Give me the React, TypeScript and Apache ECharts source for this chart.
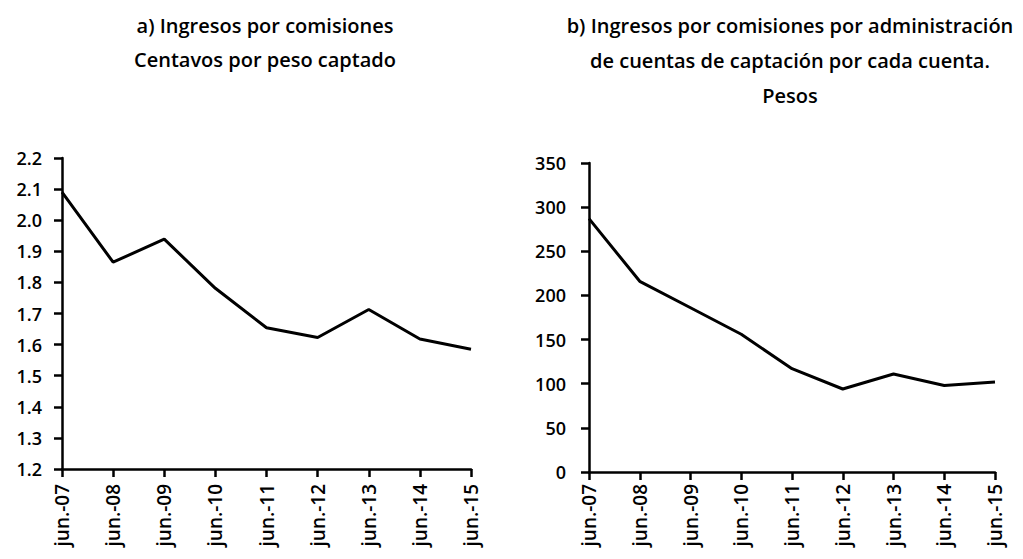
import React, { useEffect, useRef } from "react";
import * as echarts from "echarts";

const categories = ["jun.-07", "jun.-08", "jun.-09", "jun.-10", "jun.-11", "jun.-12", "jun.-13", "jun.-14", "jun.-15"];
const centavosPorPeso = [2.09, 1.865, 1.939, 1.781, 1.654, 1.623, 1.713, 1.618, 1.585];
const pesosPorCuenta = [287, 216, 186, 156, 117, 94, 111, 98, 102];

const titleA = "a) Ingresos por comisiones\nCentavos por peso captado";
const titleB = "b) Ingresos por comisiones por administración\nde cuentas de captación por cada cuenta.\nPesos";

const FONT = "Open Sans";
const WEIGHT = 600;

export default function App() {
  const ref = useRef<HTMLDivElement>(null);
  useEffect(() => {
    document.body.style.margin = "0";
    const chart = echarts.init(ref.current!, null, { renderer: "svg" });
    const axisLine = { show: true, lineStyle: { color: "#000", width: 2.5 } };
    const axisTick = { show: true, length: 8, lineStyle: { color: "#000", width: 2.5 } };
    const xAxisBase = (margin: number) => ({
      type: "category",
      data: categories,
      boundaryGap: false,
      axisLine,
      axisTick: { ...axisTick, alignWithLabel: true },
      axisLabel: { rotate: 90, fontFamily: FONT, fontWeight: WEIGHT, fontSize: 19, color: "#000", margin, interval: 0 },
      splitLine: { show: false },
    });
    const yLabel = (margin: number) => ({ fontFamily: FONT, fontWeight: WEIGHT, fontSize: 18, color: "#000", margin });
    chart.setOption({
      animation: false,
      backgroundColor: "#fff",
      title: [
        {
          text: titleA,
          left: 260,
          top: 3,
          textAlign: "center",
          textStyle: { fontFamily: FONT, fontSize: 20, fontWeight: WEIGHT, color: "#000", lineHeight: 34, align: "center" },
        },
        {
          text: titleB,
          left: 785,
          top: 3,
          textAlign: "center",
          textStyle: { fontFamily: FONT, fontSize: 20, fontWeight: WEIGHT, color: "#000", lineHeight: 35, align: "center" },
        },
      ],
      grid: [
        { left: 62, right: 552, top: 158, bottom: 90, containLabel: false },
        { left: 589, right: 28, top: 163, bottom: 87, containLabel: false },
      ],
      xAxis: [
        { ...xAxisBase(15), gridIndex: 0 },
        { ...xAxisBase(12), gridIndex: 1 },
      ],
      yAxis: [
        {
          type: "value",
          gridIndex: 0,
          min: 1.2,
          max: 2.2,
          interval: 0.1,
          axisLine,
          axisTick,
          splitLine: { show: false },
          axisLabel: { ...yLabel(20), formatter: (v: number) => v.toFixed(1) },
        },
        {
          type: "value",
          gridIndex: 1,
          min: 0,
          max: 350,
          interval: 50,
          axisLine,
          axisTick,
          splitLine: { show: false },
          axisLabel: yLabel(23),
        },
      ],
      series: [
        {
          type: "line",
          xAxisIndex: 0,
          yAxisIndex: 0,
          data: centavosPorPeso,
          showSymbol: false,
          symbol: "none",
          lineStyle: { color: "#000", width: 3 },
        },
        {
          type: "line",
          xAxisIndex: 1,
          yAxisIndex: 1,
          data: pesosPorCuenta,
          showSymbol: false,
          symbol: "none",
          lineStyle: { color: "#000", width: 3 },
        },
      ],
    });
    return () => chart.dispose();
  }, []);
  return <div ref={ref} style={{ width: 1023, height: 559 }} />;
}
